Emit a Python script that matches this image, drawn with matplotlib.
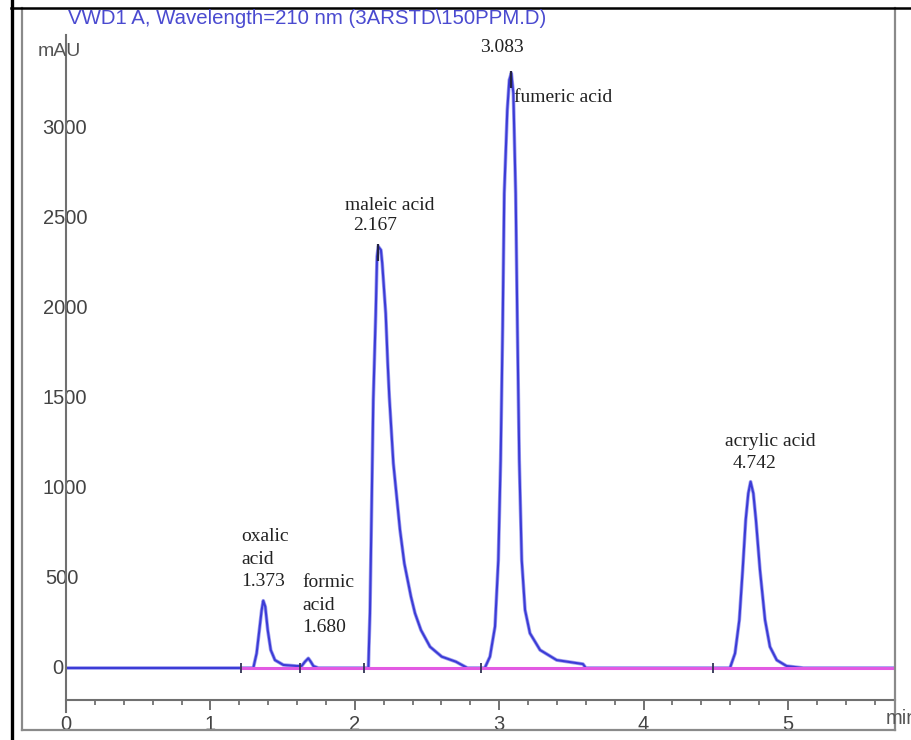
import numpy as np
import matplotlib.pyplot as plt
from matplotlib import transforms as mtransforms
from matplotlib.ticker import MultipleLocator

# chromatogram trace (time in min, signal in mAU)
oxalic_time = [1.297, 1.320, 1.339, 1.355, 1.366, 1.380, 1.397, 1.418, 1.447, 1.505, 1.598]
oxalic_mau = [0, 81, 211, 322, 374, 341, 211, 100, 44, 17, 11]

formic_time = [1.632, 1.655, 1.678, 1.695, 1.713, 1.747]
formic_mau = [11, 35, 54, 35, 11, 0]

maleic_time = [2.094, 2.098, 2.105, 2.117, 2.128, 2.145, 2.154, 2.163, 2.181, 2.190, 2.214,
               2.228, 2.239, 2.267, 2.313, 2.343, 2.389, 2.417, 2.458, 2.521, 2.602, 2.700, 2.780]
maleic_mau = [0, 118, 304, 915, 1489, 1970, 2285, 2341, 2322, 2248, 1970,
              1693, 1507, 1137, 767, 581, 396, 304, 211, 118, 63, 35, 0]

fumaric_time = [2.900, 2.936, 2.971, 2.994, 3.010, 3.024, 3.035, 3.056, 3.070, 3.084, 3.098,
                3.114, 3.126, 3.139, 3.156, 3.179, 3.213, 3.283, 3.398, 3.580, 3.600]
fumaric_mau = [0, 63, 230, 600, 1156, 1896, 2637, 3100, 3267, 3304, 3193,
               2637, 1896, 1156, 600, 322, 193, 100, 44, 22, 0]

acrylic_time = [4.598, 4.633, 4.663, 4.686, 4.707, 4.725, 4.741, 4.760, 4.778, 4.806,
                4.841, 4.875, 4.922, 4.990, 5.106]
acrylic_mau = [0, 81, 267, 544, 822, 970, 1035, 970, 822, 544, 267, 118, 44, 11, 0]

run_end = 5.74
baseline_start = 1.209
event_time = [1.209, 1.620, 2.065, 2.872, 4.483]

peak_rt = [1.373, 1.680, 2.167, 3.083, 4.742]
peak_names = ['oxalic\nacid', 'formic\nacid', 'maleic acid', 'fumeric acid', 'acrylic acid']

yticks = [0, 500, 1000, 1500, 2000, 2500, 3000]
xticks = [0, 1, 2, 3, 4, 5]

title = r'VWD1 A, Wavelength=210 nm (3ARSTD\150PPM.D)'

W, H = 911, 740
fig = plt.figure(figsize=(W / 100, H / 100), dpi=100)

# plot area in pixels
ax_l, ax_r, ax_t, ax_b = 66, 895, 35, 700
ax = fig.add_axes([ax_l / W, 1 - ax_b / H, (ax_r - ax_l) / W, (ax_b - ax_t) / H])
px_per_min = 144.4
px_per_mau = 0.18
y0_px = 668
ax.set_xlim(0, (ax_r - ax_l) / px_per_min)
ax.set_ylim(-(ax_b - y0_px) / px_per_mau, (y0_px - ax_t) / px_per_mau)

t = [0.0] + oxalic_time + formic_time + maleic_time + fumaric_time + acrylic_time + [run_end]
s = [0] + oxalic_mau + formic_mau + maleic_mau + fumaric_mau + acrylic_mau + [0]
# light halo under the trace, like the screen capture
ax.plot(t, s, color='#a0a0f0', lw=2.6, solid_joinstyle='round', zorder=2)
ax.plot(t, s, color='#3c3cd6', lw=1.5, solid_joinstyle='round', zorder=3)
ax.plot([baseline_start, run_end], [0, 0], color='#e25ae2', lw=2.2, zorder=4)
ax.vlines(event_time, -28, 28, color='#333355', lw=1.3, zorder=5)

# apex marks of the two big peaks
for pt, pm in [(maleic_time, maleic_mau), (fumaric_time, fumaric_mau)]:
    i = int(np.argmax(pm))
    ax.vlines(pt[i], pm[i] - 80, pm[i] + 15, color='#222244', lw=1.6, zorder=5)

for sp in ['top', 'right', 'left']:
    ax.spines[sp].set_visible(False)
ax.spines['bottom'].set_color('#707070')
ax.spines['bottom'].set_linewidth(1.5)

ax.set_xticks(xticks)
ax.xaxis.set_minor_locator(MultipleLocator(0.2))
ax.tick_params(axis='x', which='major', length=7.5, width=1.3, color='#666666',
               labelsize=14.5, labelcolor='#444444', pad=3)
ax.tick_params(axis='x', which='minor', length=3.8, width=1.2, color='#666666')
for lab in ax.get_xticklabels():
    lab.set_family('Liberation Sans')
ax.set_yticks([])

for v in yticks:
    txt = str(v)
    tr = mtransforms.offset_copy(ax.get_yaxis_transform(), fig=fig,
                                 x=-3 + 8 * (len(txt) - 1), y=0, units='dots')
    ax.text(0, v, txt, transform=tr, ha='right', va='center', fontsize=14.5,
            color='#444444', family='Liberation Sans')

# overlay in pixel coordinates for the frames and labels
ov = fig.add_axes([0, 0, 1, 1], zorder=5)
ov.set_xlim(0, W)
ov.set_ylim(H, 0)
ov.axis('off')
ov.patch.set_alpha(0)

ov.plot([22, 22], [8, 730], color='#8a8a8a', lw=1.6)
ov.plot([22, 895], [730, 730], color='#8a8a8a', lw=1.6)
ov.plot([895, 895], [8, 730], color='#8a8a8a', lw=1.6)
ov.plot([66, 66], [35, 712], color='#707070', lw=1.5)
ov.plot([11.5, 11.5], [0, 740], color='black', lw=2.4)
ov.plot([11, 911], [8, 8], color='black', lw=1.8)

ov.text(68, 18, title, color='#4a4ad0', fontsize=14.7, ha='left', va='center',
        family='Liberation Sans')
ov.text(38, 52, 'mAU', color='#555555', fontsize=14, ha='left', va='center',
        family='Liberation Sans')
ov.text(886, 718, 'min', color='#555555', fontsize=14.5, ha='left', va='center',
        family='Liberation Sans')

serif = dict(family='Liberation Serif', fontsize=14, color='#222222')
rt = ['%.3f' % v for v in peak_rt]
ov.text(241, 559, peak_names[0] + '\n' + rt[0], ha='left', va='center', linespacing=1.45, **serif)
ov.text(302, 605, peak_names[1] + '\n' + rt[1], ha='left', va='center', linespacing=1.45, **serif)
ov.text(345, 205, peak_names[2], ha='left', va='center', **serif)
ov.text(353, 226, rt[2], ha='left', va='center', **serif)
ov.text(480, 47, rt[3], ha='left', va='center', **serif)
ov.text(514, 98, peak_names[3], ha='left', va='center', **serif)
ov.text(725, 441, peak_names[4], ha='left', va='center', **serif)
ov.text(733, 464, rt[4], ha='left', va='center', **serif)

fig.savefig('out.png', dpi=100)
